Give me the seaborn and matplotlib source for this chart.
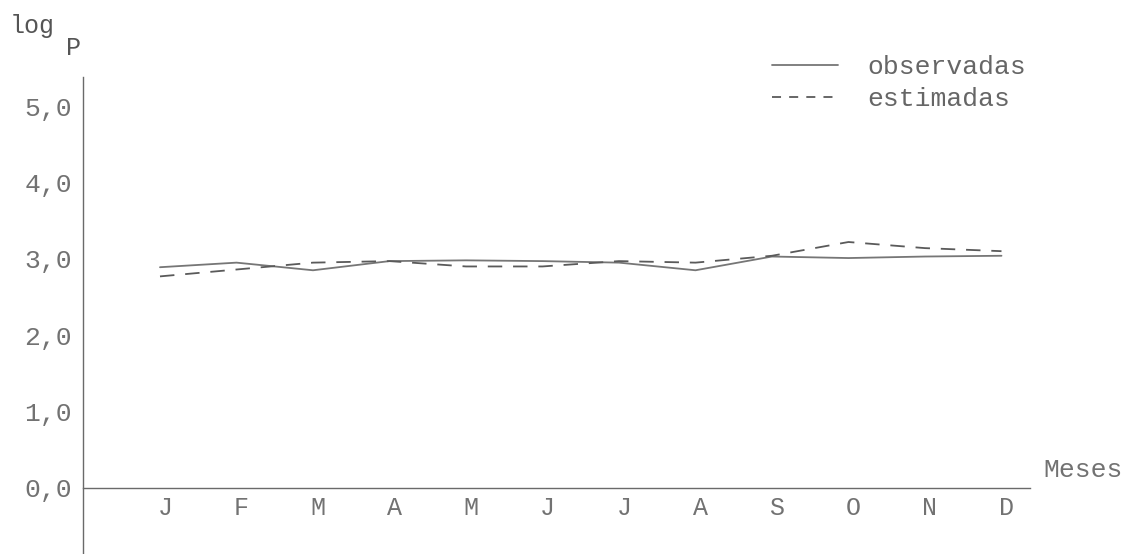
import matplotlib
matplotlib.use("Agg")
import matplotlib.pyplot as plt
from matplotlib.transforms import ScaledTranslation
import seaborn as sns
import pandas as pd

# Monthly log P values, observed vs. estimated
meses = ["J", "F", "M", "A", "M", "J", "J", "A", "S", "O", "N", "D"]
observadas = [2.89, 2.95, 2.85, 2.97, 2.98, 2.97, 2.95, 2.85, 3.03, 3.01, 3.03, 3.04]
estimadas = [2.77, 2.86, 2.95, 2.97, 2.90, 2.90, 2.97, 2.95, 3.04, 3.22, 3.14, 3.10]
y_ticks = [0, 1, 2, 3, 4, 5]
y_labels = ["0,0", "1,0", "2,0", "3,0", "4,0", "5,0"]

pos = list(range(len(meses)))
df = pd.DataFrame({
    "mes": pos * 2,
    "logp": observadas + estimadas,
    "serie": ["observadas"] * len(meses) + ["estimadas"] * len(meses),
})

sns.set_theme(style="white")
plt.rcParams["font.family"] = ["Liberation Mono", "DejaVu Sans Mono"]
ink = "#6a6a6a"
txt = "#727272"

fig = plt.figure(figsize=(11.45, 5.54), dpi=100)
ax = fig.add_axes([83 / 1145, 0, 1 - 83 / 1145, 477 / 554])

sns.lineplot(
    data=df, x="mes", y="logp", hue="serie", style="serie",
    palette={"observadas": "#767676", "estimadas": "#5a5a5a"},
    dashes={"observadas": "", "estimadas": (8, 6)},
    linewidth=1.3, ax=ax,
)

ax.set_xlim(-1.0065, 12.876)
ax.set_ylim(-0.864, 5.38)

# axes: vertical axis full height, horizontal axis along zero
for s in ["top", "right"]:
    ax.spines[s].set_visible(False)
ax.spines["left"].set_color(ink)
ax.spines["left"].set_linewidth(1.0)
ax.spines["bottom"].set_position(("data", 0))
ax.spines["bottom"].set_bounds(-1.0065, 11.37)
ax.spines["bottom"].set_color(ink)
ax.spines["bottom"].set_linewidth(1.0)

ax.set_xticks(pos)
ax.set_xticklabels(meses)
ax.set_yticks(y_ticks)
ax.set_yticklabels(y_labels)
ax.tick_params(axis="x", direction="in", length=5, width=1, color=ink,
               labelsize=18, labelcolor=txt, pad=6)
ax.tick_params(axis="y", direction="out", length=4, width=1, color=ink,
               labelsize=19, labelcolor=txt, pad=4)
shift = ScaledTranslation(5 / 100, 0, fig.dpi_scale_trans)
for lab in ax.get_xticklabels():
    lab.set_transform(lab.get_transform() + shift)
ax.set_xlabel("")
ax.set_ylabel("")
ax.grid(False)

ax.text(11.55, 0.23, "Meses", fontsize=19, color=txt, ha="left", va="center")
fig.text(10 / 1145, 1 - 26 / 554, "log", fontsize=18, color="#555555",
         ha="left", va="center")
fig.text(66 / 1145, 1 - 48 / 554, "P", fontsize=18, color="#555555",
         ha="left", va="center")

leg = ax.legend(
    loc="upper left", bbox_to_anchor=(772 / 1145, 1 - 55 / 554),
    bbox_transform=fig.transFigure, frameon=False, fontsize=19,
    handlelength=2.5, handletextpad=1.1, labelspacing=0.3,
    borderpad=0, borderaxespad=0, title=None,
)
for t in leg.get_texts():
    t.set_color("#666666")
# shorter dashes in the key so it reads as "----"
leg.get_lines()[1].set_dashes((5, 4.5))

fig.savefig("out.png", dpi=100, facecolor="white")
